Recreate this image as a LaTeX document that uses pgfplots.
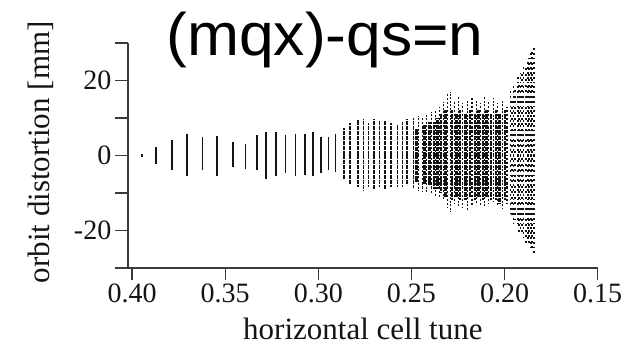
\documentclass[border=0pt]{standalone}
\usepackage{pgfplots}
\usepackage{pgfplotstable}
\pgfplotsset{compat=1.18}
\usepackage{fontspec}
\setmainfont{Liberation Serif}
\newfontfamily\titlefont[FakeStretch=1.04]{Liberation Sans}

% columns of orbit distortion: tune, upper and lower extent [mm]
\pgfplotstableread{
x      top   bot
0.3948 0.3  -0.5
0.3871 2.2  -2.4
0.3787 4.0  -4.0
0.3706 5.8  -5.4
0.3622 4.9  -4.0
0.3545 5.3  -5.4
0.3459 3.6  -3.1
0.3391 3.1  -3.7
0.3330 5.4  -4.0
0.3280 6.2  -6.2
0.3227 6.2  -5.5
0.3176 5.4  -4.6
0.3122 5.8  -5.5
0.3072 5.8  -5.1
0.3029 6.2  -5.5
0.2986 4.9  -4.8
0.2945 4.9  -4.0
0.2907 5.8  -4.5
}\colsA

\pgfplotstableread{
x      top   bot
0.2864 7.4  -6.3
0.2830 8.7  -7.6
0.2789 9.4  -8.5
0.2758 9.6  -9.4
0.2731 8.7  -8.5
0.2699 9.6  -9.0
0.2672 9.2  -8.5
0.2640 9.2  -9.0
0.2608 8.7  -8.5
0.2575 8.1  -8.3
0.2548 9.0  -8.5
0.2522 9.6  -8.0
0.2489 10.1 -8.6
}\colsB

\pgfplotstableread{
x      top   bot
0.2462 10.6 -9.4
0.2419 11.0 -10.0
0.2371 12.1 -10.7
0.2328 14.3 -12.1
0.2290 17.0 -15.2
0.2247 15.6 -13.4
0.2199 14.7 -14.7
0.2151 14.7 -12.9
0.2108 15.6 -13.8
0.2059 15.2 -12.5
0.2011 14.7 -14.3
}\colsCa

\pgfplotstableread{
x      top   bot
0.2441 10.1 -9.4
0.2392 11.6 -10.3
0.2349 13.0 -11.5
0.2306 16.5 -13.8
0.2269 14.5 -13.0
0.2226 14.0 -14.0
0.2177 15.2 -13.5
0.2129 14.0 -13.6
0.2086 14.3 -13.0
0.2038 14.0 -13.5
0.1989 12.9 -12.9
}\colsCb

% inner cores of the dense columns
\pgfplotstableread{
x      top   bot
0.2473 7.0  -7.0
0.2430 8.0  -7.5
0.2403 9.0  -8.0
0.2381 9.0  -9.0
0.2360 10.0 -9.0
0.2339 11.0 -10.0
0.2317 12.0 -11.0
0.2280 12.0 -12.0
0.2258 11.0 -11.0
0.2237 12.0 -12.0
0.2210 11.0 -12.0
0.2188 12.0 -11.0
0.2161 11.0 -12.0
0.2140 12.0 -11.0
0.2118 11.0 -12.0
0.2097 12.0 -11.0
0.2075 11.0 -12.0
0.2048 12.0 -12.0
0.2027 11.0 -13.0
0.2000 12.0 -12.0
}\colsD

% scattered cloud closest to the resonance
\pgfplotstableread{
x      top   bot
0.1968 17.4 -15.6
0.1952 19.2 -18.3
0.1930 21.0 -19.2
0.1914 21.9 -20.1
0.1898 23.7 -21.9
0.1876 25.4 -22.8
0.1860 27.2 -24.6
0.1844 28.6 -25.9
}\colsEa

\pgfplotstableread{
x      top   bot
0.1960 15.0 -16.5
0.1944 18.0 -17.0
0.1922 19.5 -20.5
0.1905 22.5 -21.0
0.1887 24.0 -23.5
0.1868 26.0 -24.0
0.1852 27.8 -25.4
}\colsEb

\definecolor{ink}{HTML}{141414}
\definecolor{axisgray}{HTML}{3A3A3A}

\begin{document}
\begin{tikzpicture}
\useasboundingbox (-128pt,-79pt) rectangle (507pt,268pt);
\begin{axis}[
  at={(0pt,0pt)}, anchor=south west,
  width=469.7pt, height=225pt, scale only axis,
  x dir=reverse,
  xmin=0.15, xmax=0.4022,
  ymin=-30, ymax=30,
  axis x line*=bottom,
  axis y line*=left,
  axis line style={axisgray, line width=1.3pt},
  tick style={axisgray, line width=1.3pt},
  tick align=outside,
  major tick length=12.5pt,
  xtick={0.40,0.35,0.30,0.25,0.20,0.15},
  xticklabels={0.40,0.35,0.30,0.25,0.20,0.15},
  ytick={-30,-20,-10,0,10,20,30},
  yticklabels={{},{-20},{},{0},{},{20},{}},
  tick label style={font=\fontsize{28}{30}\selectfont, text=ink},
  yticklabel style={inner xsep=4pt},
  label style={font=\fontsize{31}{33}\selectfont, text=ink},
  xlabel={horizontal cell tune},
  ylabel={orbit distortion [mm]},
  xlabel style={at={([yshift=-72pt]axis description cs:0.5,0)}, anchor=base},
  ylabel style={at={([xshift=-78pt]axis description cs:0,0.514)}, anchor=base},
  comb/.style={ycomb, ink, line width=1.8pt},
]
% sparse low-tune columns: nearly continuous
\addplot[comb, line width=1.6pt] table[x=x, y=top] {\colsA};
\addplot[comb, line width=1.6pt] table[x=x, y=bot] {\colsA};
% intermediate columns
\addplot[comb, dash pattern=on 4pt off 1pt] table[x=x, y=top] {\colsB};
\addplot[comb, dash pattern=on 4pt off 1pt] table[x=x, y=bot] {\colsB};
% dense region: dotted outer columns with darker cores
\addplot[comb, dash pattern=on 2pt off 1.5pt] table[x=x, y=top] {\colsCa};
\addplot[comb, dash pattern=on 2pt off 1.5pt] table[x=x, y=bot] {\colsCa};
\addplot[comb, dash pattern=on 2.2pt off 1.9pt, dash phase=1.8pt] table[x=x, y=top] {\colsCb};
\addplot[comb, dash pattern=on 2.2pt off 1.9pt, dash phase=1.8pt] table[x=x, y=bot] {\colsCb};
\addplot[comb, line width=2.1pt, dash pattern=on 4.5pt off 0.9pt, dash phase=1pt] table[x=x, y=top] {\colsD};
\addplot[comb, line width=2.1pt, dash pattern=on 4.5pt off 0.9pt, dash phase=1pt] table[x=x, y=bot] {\colsD};
% scattered cloud at the lowest tunes
\addplot[comb, dash pattern=on 1.8pt off 3pt] table[x=x, y=top] {\colsEa};
\addplot[comb, dash pattern=on 1.8pt off 3pt] table[x=x, y=bot] {\colsEa};
\addplot[comb, dash pattern=on 1.8pt off 3.7pt, dash phase=2.6pt] table[x=x, y=top] {\colsEb};
\addplot[comb, dash pattern=on 1.8pt off 3.7pt, dash phase=2.6pt] table[x=x, y=bot] {\colsEb};
\end{axis}
\node[font=\titlefont\fontsize{60}{62}\selectfont, anchor=base] at (197pt,212pt) {(mqx)-qs=n};
\end{tikzpicture}
\end{document}
